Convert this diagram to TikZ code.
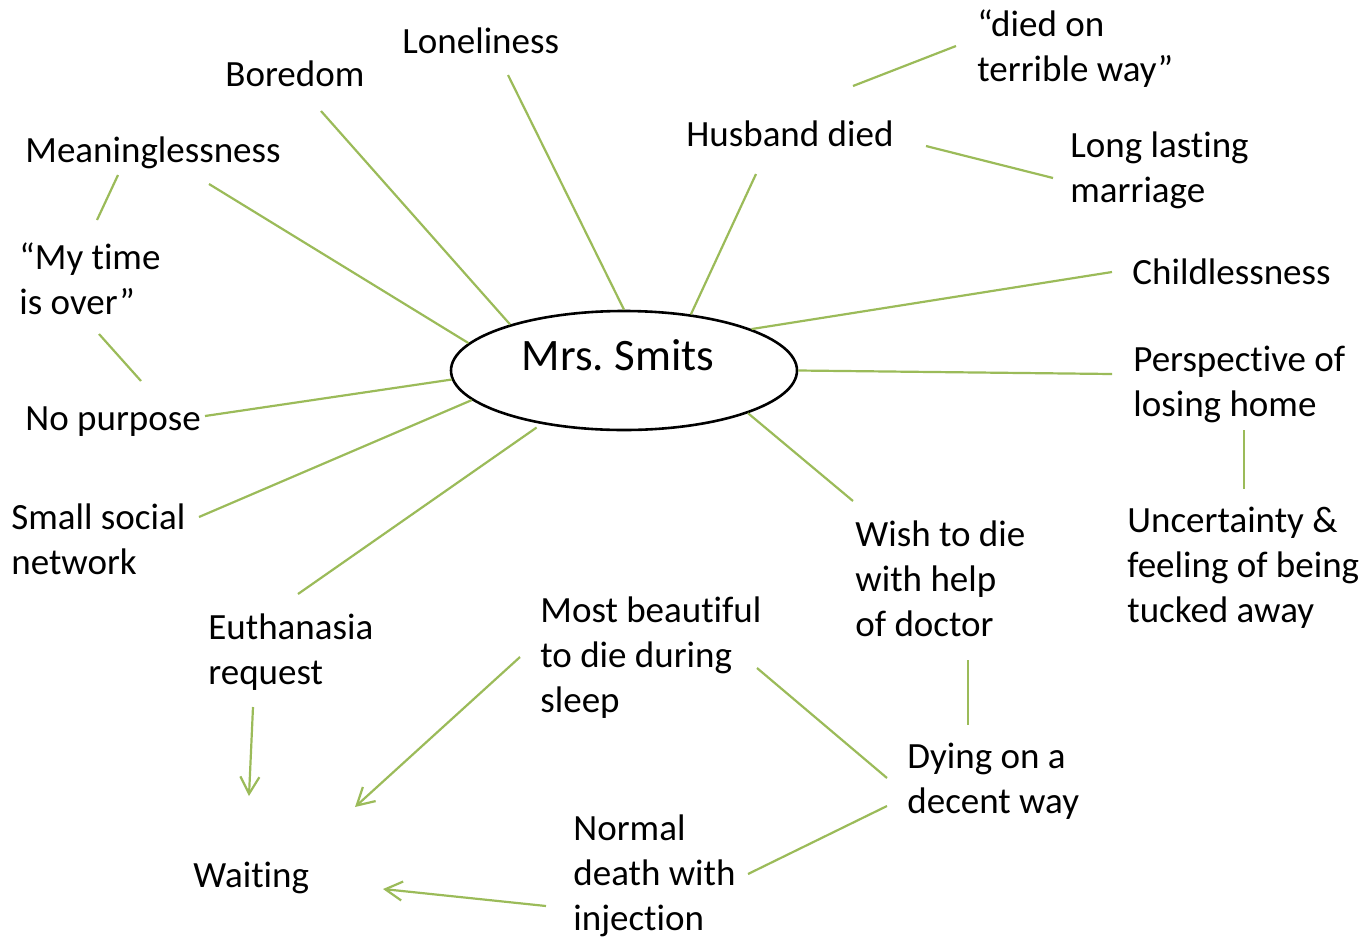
\documentclass[tikz,border=0pt]{standalone}
\usepackage{fontspec}
\setmainfont{Carlito}[Ligatures=NoCommon]
\usetikzlibrary{arrows.meta,shapes.geometric}
\definecolor{leaf}{HTML}{9BBB59}
\tikzset{
    idea/.style={align=left, anchor=base west, inner sep=0pt, font=\fontsize{18.5pt}{22.5pt}\selectfont},
    hub/.style={draw, ellipse, line width=1.3pt, minimum width=173pt, minimum height=59.5pt, inner sep=0pt,
        text height=8pt, text depth=8pt, font=\fontsize{22.5pt}{26pt}\selectfont},
    link/.style={draw=leaf, line width=1.1pt},
    flow/.style={link, -{Straight Barb[length=8.5pt, width=9.5pt]}}
}
\begin{document}
\begin{tikzpicture}[x=0.5pt, y=-0.5pt]
    \useasboundingbox (0,0) rectangle (1366,938);

    % centre
    \node[hub] (smits) at (624,370.5) {\kern-6pt Mrs.\ Smits};

    % left side (nodes sit on the baseline of their last line)
    \node[idea] (lonely) at (402,53) {Loneliness};
    \node[idea] (boredom) at (225,86) {Boredom};
    \node[idea] (meaning) at (25,162) {Meaninglessness};
    \node[idea] (mytime) at (19,314) {“My time\\is over”};
    \node[idea] (purpose) at (25,430) {No purpose};
    \node[idea] (social) at (11,574) {Small social\\network};
    \node[idea] (euth) at (208,684) {Euthanasia\\request};
    \node[idea] (waiting) at (193,887) {Waiting};

    % right side
    \node[idea] (husband) at (686,146) {Husband died};
    \node[idea] (terrible) at (977,81) {“died on\\terrible way”};
    \node[idea] (marriage) at (1070,202) {Long lasting\\marriage};
    \node[idea] (child) at (1132,284) {Childlessness};
    \node[idea] (persp) at (1133,416) {Perspective of\\losing home};
    \node[idea] (uncert) at (1127,622) {Uncertainty \&\\feeling of being\\tucked away};
    \node[idea] (wish) at (855,636) {Wish to die\\with help\\of doctor};
    \node[idea] (dying) at (907,813) {Dying on a\\decent way};
    \node[idea] (beautiful) at (540,712) {Most beautiful\\to die during\\sleep};
    \node[idea] (normal) at (573,930) {Normal\\death with\\injection};

    % spokes from the centre
    \draw[link] (smits.90) -- ([shift={(106,22)}]lonely.base west);
    \draw[link] (smits.158.9) -- ([shift={(96,25)}]boredom.base west);
    \draw[link] (smits.170.6) -- ([shift={(184,22)}]meaning.base west);
    \draw[link] (smits.183.2) -- ([shift={(180,-14)}]purpose.base west);
    \draw[link] (smits.191.5) -- ([shift={(188,-57)}]social.base west);
    \draw[link, shorten <=3pt] (smits.213.8) -- ([shift={(90,-90)}]euth.base west);
    \draw[link] (smits.40.1) -- ([shift={(70,28)}]husband.base west);
    \draw[link] (smits.18.8) -- ([shift={(-20,-12)}]child.base west);
    \draw[link] (smits.0) -- ([shift={(-21,-42)}]persp.base west);
    \draw[link] (smits.341.1) -- ([shift={(-2,-135)}]wish.base west);

    % side links
    \draw[link] ([shift={(93,13)}]meaning.base west) -- ([shift={(78,-94)}]mytime.base west);
    \draw[link] ([shift={(80,20)}]mytime.base west) -- ([shift={(116,-49)}]purpose.base west);
    \draw[link] ([shift={(167,-60)}]husband.base west) -- ([shift={(-21,-35)}]terrible.base west);
    \draw[link] ([shift={(240,0)}]husband.base west) -- ([shift={(-17,-24)}]marriage.base west);
    \draw[link] ([shift={(111,14)}]persp.base west) -- ([shift={(117,-133)}]uncert.base west);
    \draw[link] ([shift={(113,24)}]wish.base west) -- ([shift={(61,-88)}]dying.base west);
    \draw[link] ([shift={(-20,-35)}]dying.base west) -- ([shift={(217,-44)}]beautiful.base west);
    \draw[link] ([shift={(-20,-7)}]dying.base west) -- ([shift={(175,-56)}]normal.base west);

    % arrows into waiting
    \draw[flow] ([shift={(45,23)}]euth.base west) -- ([shift={(56,-91)}]waiting.base west);
    \draw[flow] ([shift={(-20,-55)}]beautiful.base west) -- ([shift={(162,-80)}]waiting.base west);
    \draw[flow] ([shift={(-27,-24)}]normal.base west) -- ([shift={(190,2)}]waiting.base west);
\end{tikzpicture}
\end{document}
